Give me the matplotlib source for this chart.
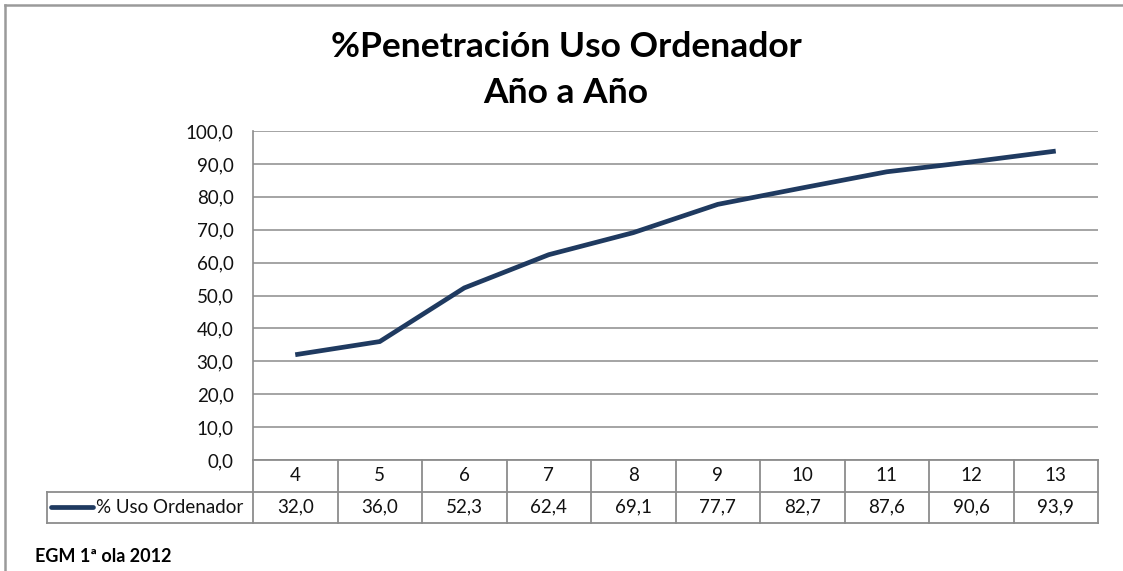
import matplotlib
matplotlib.use("Agg")
import matplotlib.pyplot as plt
from matplotlib.lines import Line2D
import matplotlib.transforms as mtransforms

categories = ["4", "5", "6", "7", "8", "9", "10", "11", "12", "13"]
uso_ordenador = [32.0, 36.0, 52.3, 62.4, 69.1, 77.7, 82.7, 87.6, 90.6, 93.9]
series_name = "% Uso Ordenador"
title_lines = ["%Penetración Uso Ordenador", "Año a Año"]
footer = "EGM 1ª ola 2012"
y_ticks = [0, 10, 20, 30, 40, 50, 60, 70, 80, 90, 100]

FONT = ["Lato", "DejaVu Sans"]
plt.rcParams['font.family'] = FONT

W, H = 1123, 571
fig = plt.figure(figsize=(W / 100, H / 100), dpi=100)
fig.patch.set_facecolor("white")

# axes placement (pixels)
L, R, T, B = 253, 1098, 131, 460
ax = fig.add_axes([L / W, 1 - B / H, (R - L) / W, (B - T) / H])

LINE_COLOR = "#1F3A60"
GRID_COLOR = "#8C8C8C"
TEXT_COLOR = "#111111"
FS = 13.5

x = list(range(len(categories)))
ax.plot(x, uso_ordenador, color=LINE_COLOR, lw=3.4, solid_joinstyle="miter",
        solid_capstyle="butt", zorder=3)

ax.set_xlim(-0.5, len(categories) - 0.5)
ax.set_ylim(0, 100)
ax.set_yticks(y_ticks)
ax.set_yticklabels([f"{v:.1f}".replace(".", ",") for v in y_ticks],
                   fontsize=FS, color=TEXT_COLOR)
ax.tick_params(axis="y", length=0, pad=14)
ax.set_xticks([])
ax.yaxis.grid(True, color=GRID_COLOR, lw=1.1)
ax.set_axisbelow(True)
for s in ["top", "right", "bottom"]:
    ax.spines[s].set_visible(False)
ax.spines["left"].set_color(GRID_COLOR)
ax.spines["left"].set_linewidth(1.2)

# data table below the axes
ph = B - T
pw = R - L
row_h = 31.5 / ph
trans = mtransforms.blended_transform_factory(ax.transData, ax.transAxes)
tc = GRID_COLOR
lw = 1.3
leg_left = -206 / pw  # axes fraction

# horizontal lines
ax.plot([0, 1], [0, 0], transform=ax.transAxes, color=tc, lw=lw, clip_on=False)
ax.plot([leg_left, 1], [-row_h, -row_h], transform=ax.transAxes, color=tc, lw=lw, clip_on=False)
ax.plot([leg_left, 1], [-2 * row_h, -2 * row_h], transform=ax.transAxes, color=tc, lw=lw, clip_on=False)
# vertical lines
for i in range(len(categories) + 1):
    ax.plot([i - 0.5, i - 0.5], [0, -2 * row_h], transform=trans, color=tc, lw=lw, clip_on=False)
ax.plot([leg_left, leg_left], [-row_h, -2 * row_h], transform=ax.transAxes, color=tc, lw=lw, clip_on=False)

for i, (c, v) in enumerate(zip(categories, uso_ordenador)):
    ax.text(i, -row_h / 2, c, transform=trans, ha="center", va="center",
            fontsize=FS, color=TEXT_COLOR)
    ax.text(i, -1.5 * row_h, f"{v:.1f}".replace(".", ","), transform=trans,
            ha="center", va="center", fontsize=FS, color=TEXT_COLOR)

# legend key in the table
ax.plot([leg_left + 4 / pw, leg_left + 46 / pw], [-1.5 * row_h, -1.5 * row_h],
        transform=ax.transAxes, color=LINE_COLOR, lw=3.4, clip_on=False,
        solid_capstyle="round")
ax.text(leg_left + 49 / pw, -1.5 * row_h, series_name, transform=ax.transAxes,
        ha="left", va="center", fontsize=FS, color=TEXT_COLOR)

# titles
fig.text(566 / W, 1 - 47 / H, title_lines[0], ha="center", va="center",
         fontsize=25.5, fontweight="bold", color="black")
fig.text(566 / W, 1 - 93 / H, title_lines[1], ha="center", va="center",
         fontsize=25.5, fontweight="bold", color="black")

# footer
fig.text(35 / W, 1 - 556 / H, footer, ha="left", va="center",
         fontsize=13, fontweight="bold", color="black")

# outer chart border (top and left)
fig.add_artist(Line2D([5 / W, 1], [1 - 5 / H, 1 - 5 / H], transform=fig.transFigure,
                      color="#9a9a9a", lw=1.8))
fig.add_artist(Line2D([5 / W, 5 / W], [1 - 5 / H, 0], transform=fig.transFigure,
                      color="#9a9a9a", lw=1.8))

fig.savefig("out.png", dpi=100, facecolor="white")
